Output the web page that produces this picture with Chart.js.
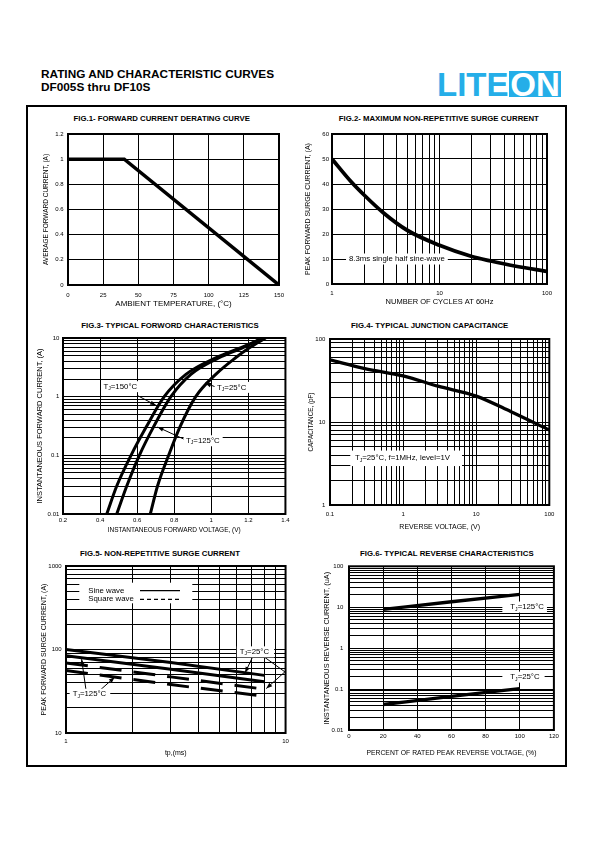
<!DOCTYPE html>
<html>
<head>
<meta charset="utf-8">
<title>DF005S thru DF10S - rating and characteristic curves</title>
<script src="https://cdn.jsdelivr.net/npm/chart.js"></script>
<style>
  body { margin: 0; width: 595px; height: 842px; position: relative; background: #fff; overflow: hidden;
         font-family: 'Liberation Sans', Arial, sans-serif; color: #000; }
  .head { position: absolute; left: 41px; font-size: 11.8px; font-weight: bold; line-height: 12px; white-space: nowrap; }
  .frame { position: absolute; left: 26px; top: 105px; width: 537px; height: 658px; border: 2px solid #000; }
  .fig { position: absolute; font-size: 7.8px; font-weight: bold; white-space: nowrap; transform: translate(-50%, -50%); }
  canvas { position: absolute; }
  #logo { position: absolute; left: 430px; top: 60px; }
</style>
</head>
<body>
<div class="head" style="top:67.5px">RATING AND CHARACTERISTIC CURVES</div>
<div class="head" style="top:80.5px">DF005S thru DF10S</div>
<svg id="logo" width="140" height="45">
  <rect x="79" y="11" width="52" height="26" fill="#25aee8"></rect>
  <text x="7" y="36" font-family="Liberation Sans, Arial, sans-serif" font-size="33" font-weight="bold" fill="#25aee8">LITE</text>
  <text x="105" y="36" text-anchor="middle" font-family="Liberation Sans, Arial, sans-serif" font-size="33" font-weight="bold" fill="#fff">ON</text>
</svg>
<div class="frame"></div>

<div class="fig" style="left:161.7px;top:118px">FIG.1- FORWARD CURRENT DERATING CURVE</div>
<div class="fig" style="left:438.8px;top:118px">FIG.2- MAXIMUM NON-REPETITIVE SURGE CURRENT</div>
<div class="fig" style="left:170px;top:325px">FIG.3- TYPICAL FORWORD CHARACTERISTICS</div>
<div class="fig" style="left:429.7px;top:325px">FIG.4- TYPICAL JUNCTION CAPACITANCE</div>
<div class="fig" style="left:160px;top:553px">FIG.5- NON-REPETITIVE SURGE CURRENT</div>
<div class="fig" style="left:446.8px;top:552.7px">FIG.6- TYPICAL REVERSE CHARACTERISTICS</div>

<canvas id="fig1"></canvas>
<canvas id="fig2"></canvas>
<canvas id="fig3"></canvas>
<canvas id="fig4"></canvas>
<canvas id="fig5"></canvas>
<canvas id="fig6"></canvas>

<script>
// values

// fig.1 derating
const ambientTemp = [0, 40, 150];
const avgCurrent = [1, 1, 0];

// fig.2 surge vs number of cycles
const cycles = [1, 1.5, 2, 3, 5, 10, 20, 30, 50, 100];
const surgeAmps = [50, 41, 35.5, 28.5, 21.5, 15.5, 11, 9.2, 7.2, 5];

// fig.3 forward characteristics (current points shared by the 3 curves)
const fwdAmps = [0.01, 0.03, 0.1, 0.3, 1, 2.4, 4.6, 7, 10];
const fwdVolts150 = [0.436, 0.49, 0.567, 0.648, 0.746, 0.863, 1.024, 1.167, 1.284];
const fwdVolts125 = [0.49, 0.544, 0.612, 0.687, 0.782, 0.89, 1.042, 1.176, 1.275];
const fwdVolts25 = [0.671, 0.71, 0.77, 0.83, 0.916, 1.024, 1.131, 1.212, 1.293];

// fig.4 junction capacitance
const revVolts = [0.1, 0.3, 1, 3, 10, 30, 100];
const capPf = [56, 44, 36, 27, 20.5, 13.3, 8];

// fig.5 surge vs pulse width
const pulseMs = [1, 3, 8];
const sine25 = [100, 70, 49];
const sine125 = [84, 58, 41];
const square25 = [69, 47, 33.5];
const square125 = [56, 38, 27.5];

// fig.6 reverse leakage
const ratedPct = [20, 60, 100];
const leak125 = [8.9, 13.6, 20.6];
const leak25 = [0.042, 0.066, 0.103];

const FONT = "'Liberation Sans', Arial, sans-serif";
Chart.defaults.font.family = FONT;
Chart.defaults.color = '#000';

function logTicks(lo, hi) {
    const out = [];
    const e0 = Math.round(Math.log10(lo)), e1 = Math.round(Math.log10(hi));
    for (let e = e0; e < e1; e++) {
        for (let m = 1; m < 10; m++) out.push(+(m * Math.pow(10, e)).toPrecision(6));
    }
    out.push(hi);
    return out;
}

function isDecade(v) {
    const l = Math.log10(v);
    return Math.abs(l - Math.round(l)) < 1e-9;
}

function pts(xs, ys) {
    return xs.map((x, i) => ({ x: x, y: ys[i] }));
}

function curve(xs, ys, width, opts) {
    opts = opts || {};
    return {
        data: pts(xs, ys),
        borderColor: '#000',
        borderWidth: width,
        borderDash: opts.dash || [],
        pointRadius: 0,
        fill: false,
        tension: 0,
        cubicInterpolationMode: opts.straight ? 'default' : 'monotone'
    };
}

// text runs: [text, isSubscript]
function runWidth(ctx, runs, size) {
    let w = 0;
    runs.forEach(r => {
        ctx.font = (r[1] ? size * 0.65 : size) + 'px ' + FONT;
        w += ctx.measureText(r[0]).width;
    });
    return w;
}

function drawRuns(ctx, x, y, runs, size) {
    ctx.fillStyle = '#000';
    ctx.textBaseline = 'middle';
    ctx.textAlign = 'left';
    runs.forEach(r => {
        ctx.font = (r[1] ? size * 0.65 : size) + 'px ' + FONT;
        ctx.fillText(r[0], x, r[1] ? y + size * 0.28 : y);
        x += ctx.measureText(r[0]).width;
    });
}

function drawArrow(ctx, x1, y1, x2, y2, head) {
    ctx.strokeStyle = '#000';
    ctx.lineWidth = 1;
    ctx.setLineDash([]);
    ctx.beginPath();
    ctx.moveTo(x1, y1);
    ctx.lineTo(x2, y2);
    ctx.stroke();
    if (!head) return;
    const a = Math.atan2(y2 - y1, x2 - x1), L = 6, W = 2.2;
    ctx.beginPath();
    ctx.moveTo(x2, y2);
    ctx.lineTo(x2 - L * Math.cos(a) + W * Math.sin(a), y2 - L * Math.sin(a) - W * Math.cos(a));
    ctx.lineTo(x2 - L * Math.cos(a) - W * Math.sin(a), y2 - L * Math.sin(a) + W * Math.cos(a));
    ctx.closePath();
    ctx.fillStyle = '#000';
    ctx.fill();
}

// labels / arrows / legend drawn on top of the plot
const notesPlugin = {
    id: 'notes',
    afterDatasetsDraw(chart, args, opts) {
        const ctx = chart.ctx, xs = chart.scales.x, ys = chart.scales.y;
        const px = v => xs.getPixelForValue(v), py = v => ys.getPixelForValue(v);
        const size = 7.8;
        ctx.save();
        (opts.arrows || []).forEach(a => drawArrow(ctx, px(a[0]), py(a[1]), px(a[2]), py(a[3]), a[4]));
        (opts.labels || []).forEach(l => {
            const x = px(l.x), y = py(l.y);
            const w = runWidth(ctx, l.t, size);
            const pl = l.padL != null ? l.padL : 2.5, pr = l.padR != null ? l.padR : 3, h = l.h || 11;
            ctx.fillStyle = '#fff';
            ctx.fillRect(x - pl, y - h / 2, w + pl + pr, h);
            drawRuns(ctx, x, y, l.t, size);
        });
        const lg = opts.legend;
        if (lg) {
            const a = chart.chartArea;
            ctx.fillStyle = '#fff';
            ctx.fillRect(a.left + lg.box[0], a.top + lg.box[1], lg.box[2], lg.box[3]);
            lg.rows.forEach(r => {
                const y = a.top + r.y;
                drawRuns(ctx, a.left + lg.textX, y, [[r.text]], size);
                ctx.strokeStyle = '#000';
                ctx.lineWidth = 1.2;
                ctx.setLineDash(r.dash);
                ctx.beginPath();
                ctx.moveTo(a.left + lg.line[0], y);
                ctx.lineTo(a.left + lg.line[1], y);
                ctx.stroke();
            });
            ctx.setLineDash([]);
        }
        ctx.restore();
    },
    afterDraw(chart) {
        const a = chart.chartArea, ctx = chart.ctx;
        ctx.save();
        ctx.strokeStyle = '#000';
        ctx.lineWidth = 2;
        ctx.strokeRect(a.left, a.top, a.right - a.left, a.bottom - a.top);
        ctx.restore();
    }
};
Chart.register(notesPlugin);

function axisOpts(a, size, titlePad, tickPad) {
    const log = a.type === 'logarithmic';
    const o = {
        type: a.type || 'linear',
        min: a.min,
        max: a.max,
        grid: { color: '#000', lineWidth: 1, drawTicks: false },
        border: { display: false },
        ticks: {
            font: { size: 6 },
            padding: tickPad,
            autoSkip: false,
            maxRotation: 0,
            stepSize: a.step,
            callback: log ? (v => isDecade(v) ? String(v) : '') : (v => String(Math.round(v * 100) / 100))
        },
        title: { display: true, text: a.title, font: { size: a.titleSize }, padding: titlePad },
        afterFit: s => { if (s.isHorizontal()) s.height = size; else s.width = size; }
    };
    if (log) o.afterBuildTicks = s => { s.ticks = logTicks(a.min, a.max).map(v => ({ value: v })); };
    return o;
}

// spec.canvas = [left, top, w, h] on the page, spec.area = plot box [l, t, r, b]
function buildChart(id, spec, datasets, notes) {
    const cv = document.getElementById(id);
    const [cl, ct, cw, ch] = spec.canvas;
    const [al, at, ar, ab] = spec.area;
    cv.width = cw;
    cv.height = ch;
    cv.style.left = cl + 'px';
    cv.style.top = ct + 'px';
    const xa = spec.x, ya = spec.y;
    return new Chart(cv, {
        type: 'line',
        data: { datasets: datasets },
        options: {
            responsive: false,
            animation: false,
            layout: { padding: { left: 0, top: at - ct, right: cl + cw - ar, bottom: 0 } },
            plugins: { legend: { display: false }, tooltip: { enabled: false }, notes: notes || {} },
            scales: {
                x: axisOpts(xa, ct + ch - ab, { top: 0, bottom: ct + ch - xa.titleAt - xa.titleSize * 0.6 }, xa.tickAt - ab - 3.6),
                y: axisOpts(ya, al - cl, { top: ya.titleAt - cl - ya.titleSize * 0.6, bottom: 0 }, al - ya.tickAt)
            }
        }
    });
}

const TJ = t => [['T'], ['J', true], ['=' + t + '°C']];

buildChart('fig1', {
    canvas: [32, 125, 262, 190], area: [68, 134, 279, 285],
    x: { min: 0, max: 150, step: 25, title: 'AMBIENT TEMPERATURE, (°C)', titleSize: 8, titleAt: 304, tickAt: 295 },
    y: { min: 0, max: 1.2, step: 0.2, title: 'AVERAGE FORWARD CURRENT, (A)', titleSize: 6.5, titleAt: 46, tickAt: 63.5 }
}, [curve(ambientTemp, avgCurrent, 3.5, { straight: true })]);

buildChart('fig2', {
    canvas: [300, 125, 262, 190], area: [332, 134, 547, 284],
    x: { type: 'logarithmic', min: 1, max: 100, title: 'NUMBER OF CYCLES AT 60Hz', titleSize: 7.5, titleAt: 301.5, tickAt: 293 },
    y: { min: 0, max: 60, step: 10, title: 'PEAK FORWARD SURGE CURRENT, (A)', titleSize: 7, titleAt: 308, tickAt: 329 }
}, [curve(cycles, surgeAmps, 3.8)], {
    labels: [{ x: 1.44, y: 10, t: [['8.3ms single half sine-wave']], padL: 3, padR: 3 }]
});

buildChart('fig3', {
    canvas: [30, 330, 262, 210], area: [63, 338, 287, 514],
    x: { min: 0.2, max: 1.4, step: 0.2, title: 'INSTANTANEOUS FORWARD VOLTAGE, (V)', titleSize: 6.5, titleAt: 530, tickAt: 520 },
    y: { type: 'logarithmic', min: 0.01, max: 10, title: 'INSTANTANEOUS FORWARD CURRENT, (A)', titleSize: 7.5, titleAt: 40, tickAt: 59.3 }
}, [
    curve(fwdVolts150, fwdAmps, 3),
    curve(fwdVolts125, fwdAmps, 3),
    curve(fwdVolts25, fwdAmps, 3)
], {
    labels: [
        { x: 0.4186, y: 1.48, t: TJ(150) },
        { x: 1.031, y: 1.44, t: TJ(25) },
        { x: 0.864, y: 0.177, t: TJ(125) }
    ],
    arrows: [
        [0.603, 1.04, 0.702, 0.71, true],
        [1.02, 1.48, 0.966, 1.71, true],
        [0.859, 0.1845, 0.71, 0.304, true]
    ]
});

buildChart('fig4', {
    canvas: [298, 330, 262, 210], area: [330, 339, 553, 505],
    x: { type: 'logarithmic', min: 0.1, max: 100, title: 'REVERSE VOLTAGE, (V)', titleSize: 7, titleAt: 526.7, tickAt: 514.3 },
    y: { type: 'logarithmic', min: 1, max: 100, title: 'CAPACITANCE, (pF)', titleSize: 6.3, titleAt: 311.3, tickAt: 325.3 }
}, [curve(revVolts, capPf, 3.3)], {
    labels: [{ x: 0.219, y: 3.65, t: [['T'], ['J', true], ['=25°C, f=1MHz, level=1V']], padL: 4.6, padR: 12, h: 15.5 }]
});

buildChart('fig5', {
    canvas: [30, 558, 264, 205], area: [66, 566, 287, 733],
    x: { type: 'logarithmic', min: 1, max: 10, title: 'tp,(ms)', titleSize: 7, titleAt: 753.3, tickAt: 741.7 },
    y: { type: 'logarithmic', min: 10, max: 1000, title: 'PEAK FORWARD SURGE CURRENT, (A)', titleSize: 7, titleAt: 44, tickAt: 61.7 }
}, [
    curve(pulseMs, sine25, 3, { straight: true }),
    curve(pulseMs, sine125, 3, { straight: true }),
    curve(pulseMs, square25, 3, { straight: true, dash: [22, 12] }),
    curve(pulseMs, square125, 3, { straight: true, dash: [22, 12] })
], {
    labels: [
        { x: 6.19, y: 93.7, t: TJ(25), padL: 3, padR: 5 },
        { x: 1.072, y: 29.1, t: TJ(125), padL: 3, padR: 4 }
    ],
    arrows: [
        [7.06, 80.3, 6.54, 52.5, true],
        [7.98, 81.7, 9.93, 54, false],
        [9.93, 54, 8.17, 34.1, true],
        [1.232, 33.4, 1.178, 76.6, true],
        [1.396, 30.8, 1.667, 46.6, true]
    ],
    legend: {
        box: [13.3, 16.7, 113, 20.6],
        textX: 22.3,
        line: [74, 114],
        rows: [{ text: 'Sine wave', y: 24.7, dash: [] }, { text: 'Square wave', y: 33.3, dash: [4, 3] }]
    }
});

buildChart('fig6', {
    canvas: [298, 557, 264, 206], area: [349, 565, 555, 730],
    x: { min: 0, max: 120, step: 20, title: 'PERCENT OF RATED PEAK REVERSE VOLTAGE, (%)', titleSize: 6.8, titleAt: 753.3, tickAt: 736.7 },
    y: { type: 'logarithmic', min: 0.01, max: 100, title: 'INSTANTANEOUS REVERSE CURRENT, (uA)', titleSize: 7.3, titleAt: 327.3, tickAt: 343.3 }
}, [curve(ratedPct, leak125, 3.3), curve(ratedPct, leak25, 3.3)], {
    labels: [
        { x: 94.5, y: 10.1, t: TJ(125), padL: 8, padR: 3 },
        { x: 94.5, y: 0.196, t: TJ(25), padL: 8, padR: 5 }
    ]
});
</script>
</body>
</html>
